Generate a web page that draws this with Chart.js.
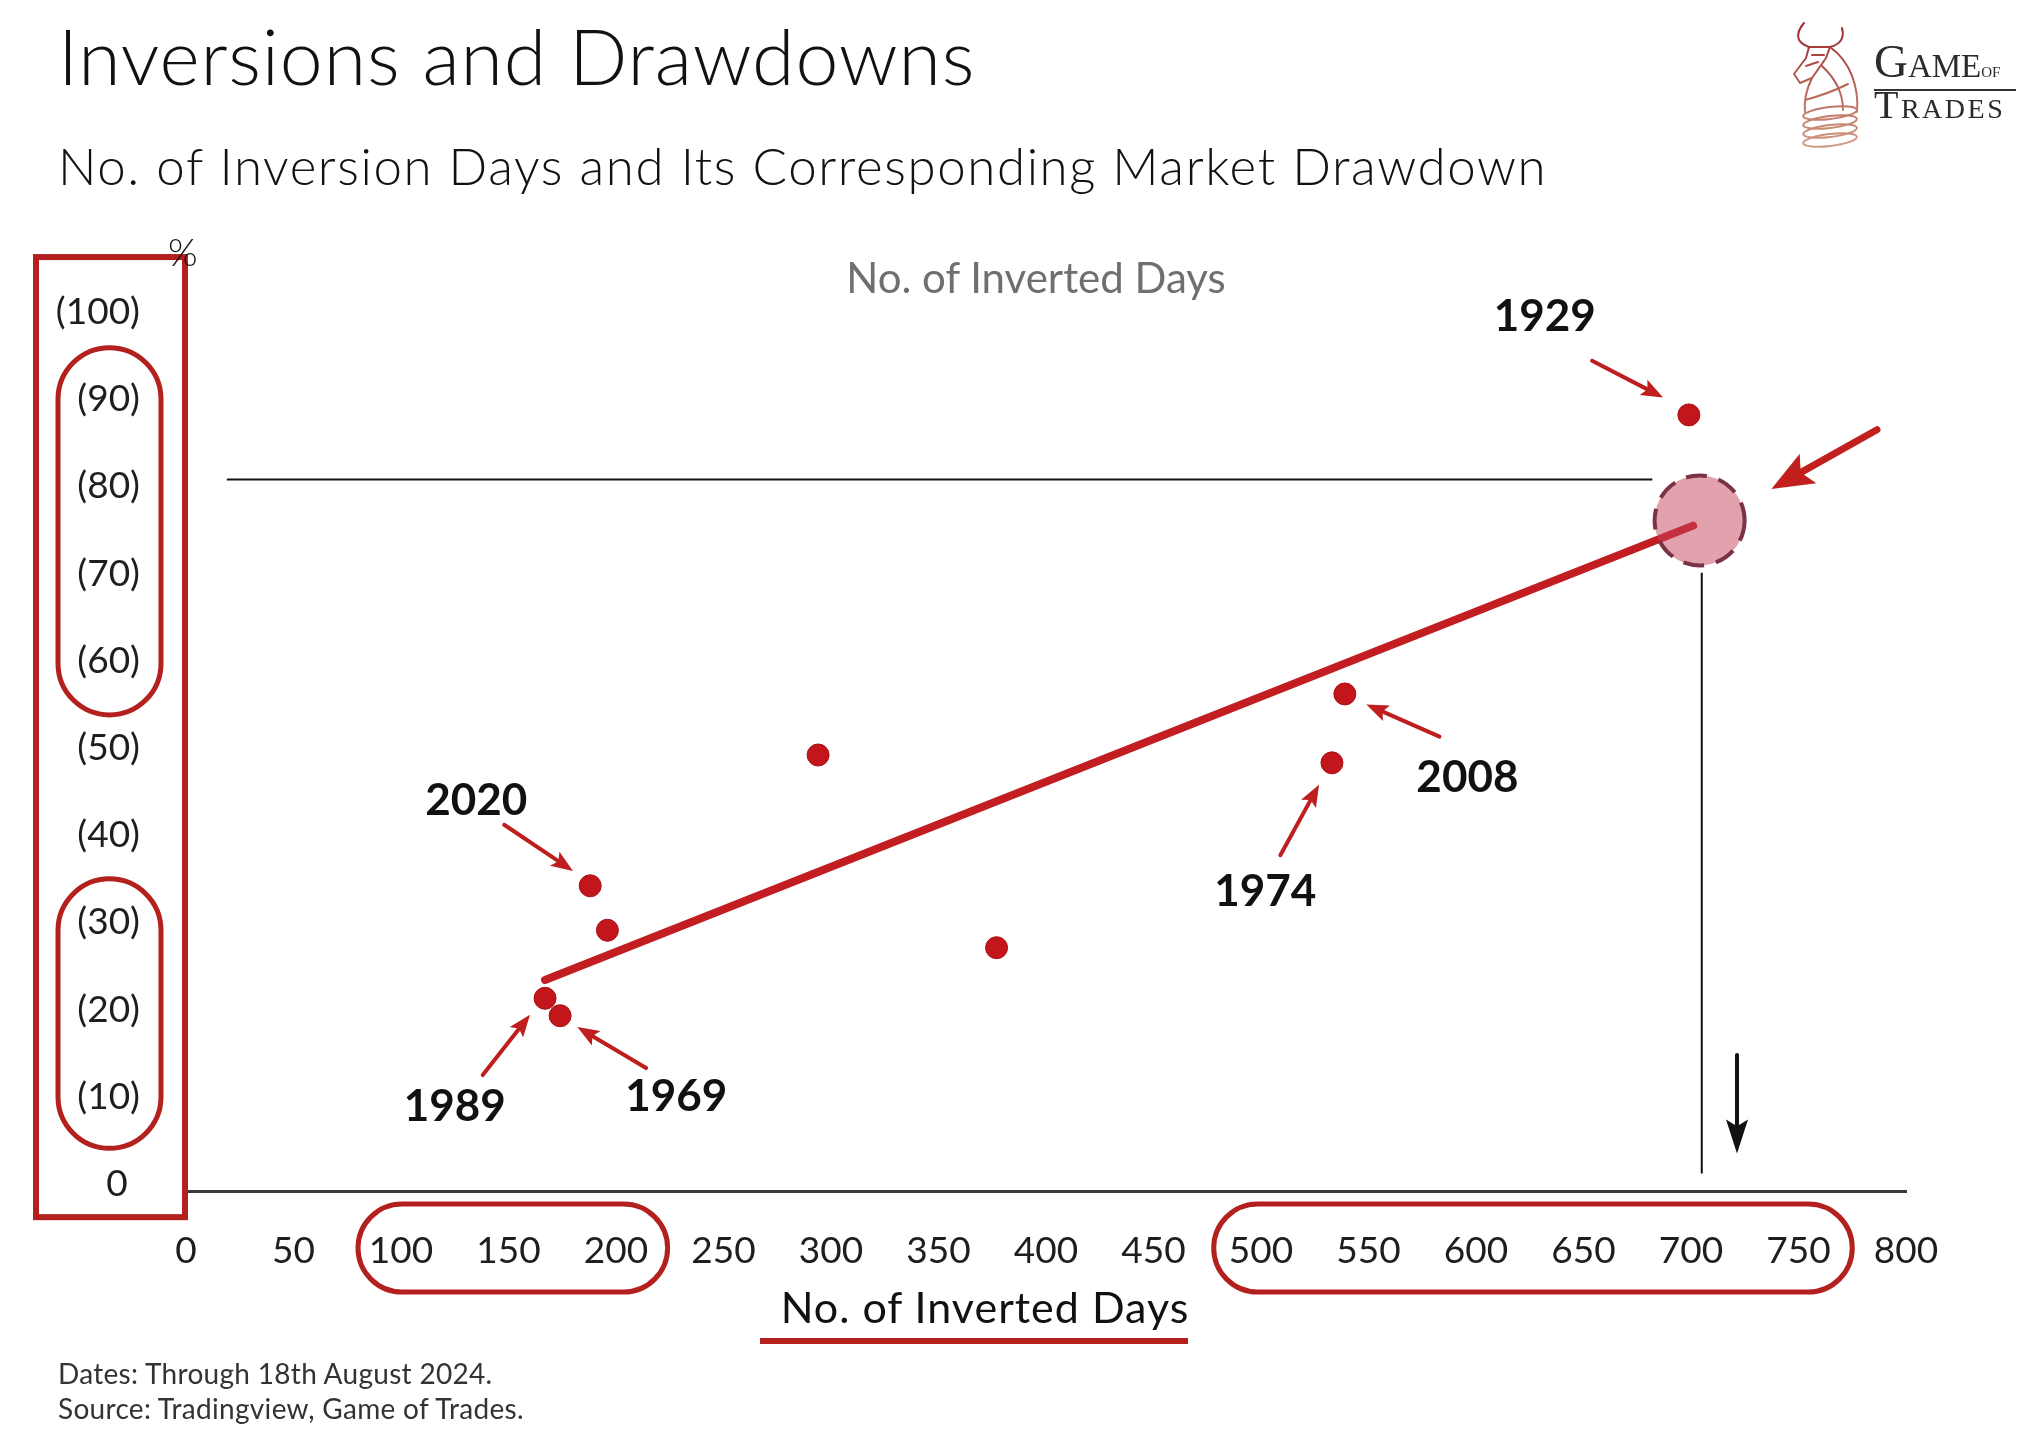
<!DOCTYPE html>
<html>
<head>
<meta charset="utf-8">
<title>Inversions and Drawdowns</title>
<script src="https://cdn.jsdelivr.net/npm/chart.js@4.4.1/dist/chart.umd.min.js"></script>
<style>
  html, body { margin: 0; padding: 0; background: #fff; }
  body { width: 2040px; height: 1450px; position: relative; overflow: hidden;
         font-family: Lato, "Noto Sans", sans-serif; color: #111; }
  #chart { position: absolute; left: 0; top: 0; }
  .txt { position: absolute; white-space: nowrap; line-height: 1; }
  #title { left: 58px; top: 17px; font-size: 77px; font-weight: 300; letter-spacing: 0.9px; }
  #subtitle { left: 58px; top: 140px; font-size: 51px; font-weight: 300; letter-spacing: 1.6px; }
  #topLabel { left: 1036px; top: 256px; font-size: 42px; color: #6f6f6f; transform: translateX(-50%); }
  #pct { left: 168px; top: 232px; font-size: 38px; font-weight: 300; }
  #xTitle { left: 985px; top: 1285px; font-size: 43px; letter-spacing: 1px; transform: translateX(-50%); }
  .note { left: 58px; font-size: 28px; color: #333; letter-spacing: 0.3px; }
  #note1 { top: 1359px; }
  #note2 { top: 1394px; }
  .logo { font-family: "Liberation Serif", "DejaVu Serif", serif; color: #2b2b2b; font-variant: small-caps; left: 1874px; }
  #logo1 { top: 38px; font-size: 47px; }
  #logo1 small { font-size: 21px; }
  #logo2 { top: 85px; font-size: 40px; letter-spacing: 2.5px; }
  #logoRule { position: absolute; left: 1874px; top: 89px; width: 142px; height: 2px; background: #333; }
</style>
</head>
<body>
<canvas id="chart" width="2040" height="1450"></canvas>
<div class="txt" id="title">Inversions and Drawdowns</div>
<div class="txt" id="subtitle">No. of Inversion Days and Its Corresponding Market Drawdown</div>
<div class="txt" id="topLabel">No. of Inverted Days</div>
<div class="txt" id="pct">%</div>
<div class="txt" id="xTitle">No. of Inverted Days</div>
<div class="txt note" id="note1">Dates: Through 18th August 2024.</div>
<div class="txt note" id="note2">Source: Tradingview, Game of Trades.</div>
<div class="txt logo" id="logo1">Game<small>of</small></div>
<div id="logoRule"></div>
<div class="txt logo" id="logo2">Trades</div>
<script>
// inversion episodes: days inverted vs. market drawdown (%)
const days      = [699, 539, 533, 294, 377, 188, 196, 167, 174]
const drawdowns = [88.2, 56.2, 48.3, 49.2, 27.1, 34.2, 29.1, 21.3, 19.3]

// trend line and current episode
const trendDays      = [167, 701]
const trendDrawdowns = [23.4, 75.5]
const currentDays      = [704]
const currentDrawdowns = [76.1]

// guide lines
const hLineDays = [19, 682]
const hLineDrawdowns = [80.8, 80.8]
const vLineDays = [705, 705]
const vLineDrawdowns = [70.1, 1.2]

// ticks
const xTicks = [0, 50, 100, 150, 200, 250, 300, 350, 400, 450, 500, 550, 600, 650, 700, 750, 800]
const yTicks = [0, 10, 20, 30, 40, 50, 60, 70, 80, 90, 100]

// year call-outs (label position + arrow from/to, in data units)
const labelYears     = ['1929', '2008', '1974', '2020', '1989', '1969']
const labelDays      = [632, 596, 502, 135, 125, 228]
const labelDrawdowns = [99.4, 46.6, 33.5, 44.0, 8.9, 10.0]
const arrowFromDays  = [654, 583, 509, 148, 138, 214]
const arrowFromDD    = [94.4, 51.3, 37.7, 41.2, 12.5, 13.3]
const arrowToDays    = [687, 549, 527, 180, 160, 182]
const arrowToDD      = [90.2, 55.0, 45.8, 35.9, 19.4, 18.0]

// highlighted tick ranges
const xPillRanges = [[80, 224], [478, 775]]
const yPillRanges = [[95.9, 53.8], [35.0, 4.1]]

const RED = '#b3201d'

const toXY = (xs, ys) => xs.map((x, i) => ({ x: x, y: ys[i] }))

function arrow(ctx, x1, y1, x2, y2, color, lw, headLen, headW) {
  const a = Math.atan2(y2 - y1, x2 - x1)
  const bx = x2 - headLen * Math.cos(a)
  const by = y2 - headLen * Math.sin(a)
  ctx.strokeStyle = color
  ctx.lineWidth = lw
  ctx.lineCap = 'round'
  ctx.beginPath()
  ctx.moveTo(x1, y1)
  ctx.lineTo(x2 - headLen * 0.7 * Math.cos(a), y2 - headLen * 0.7 * Math.sin(a))
  ctx.stroke()
  ctx.fillStyle = color
  ctx.beginPath()
  ctx.moveTo(x2, y2)
  ctx.lineTo(bx + headW / 2 * Math.sin(a), by - headW / 2 * Math.cos(a))
  ctx.lineTo(x2 - headLen * 0.8 * Math.cos(a), y2 - headLen * 0.8 * Math.sin(a))
  ctx.lineTo(bx - headW / 2 * Math.sin(a), by + headW / 2 * Math.cos(a))
  ctx.closePath()
  ctx.fill()
}

function pill(ctx, x, y, w, h) {
  const r = Math.min(w, h) / 2
  ctx.beginPath()
  ctx.roundRect(x, y, w, h, r)
  ctx.stroke()
}

function drawLogo(ctx) {
  const g = ctx.createLinearGradient(0, 22, 0, 145)
  g.addColorStop(0, '#9c2428')
  g.addColorStop(1, '#cf9c82')
  ctx.save()
  ctx.strokeStyle = g
  ctx.lineWidth = 2
  ctx.lineJoin = 'round'
  // horns
  ctx.beginPath()
  ctx.moveTo(1804, 23); ctx.quadraticCurveTo(1790, 40, 1809, 47)
  ctx.moveTo(1842, 28); ctx.quadraticCurveTo(1846, 43, 1830, 47)
  ctx.stroke()
  // head
  ctx.beginPath()
  ctx.moveTo(1809, 47); ctx.lineTo(1830, 47); ctx.lineTo(1826, 58)
  ctx.lineTo(1812, 78); ctx.lineTo(1800, 83); ctx.lineTo(1794, 74)
  ctx.lineTo(1806, 58); ctx.closePath()
  ctx.moveTo(1812, 55); ctx.lineTo(1824, 55)
  ctx.moveTo(1806, 66); ctx.lineTo(1818, 62)
  ctx.stroke()
  // neck / knight body
  ctx.beginPath()
  ctx.moveTo(1830, 47); ctx.bezierCurveTo(1851, 62, 1859, 88, 1857, 112)
  ctx.moveTo(1812, 78); ctx.bezierCurveTo(1806, 90, 1804, 102, 1805, 112)
  ctx.moveTo(1822, 66); ctx.bezierCurveTo(1837, 80, 1843, 96, 1843, 110)
  ctx.moveTo(1805, 100); ctx.bezierCurveTo(1820, 96, 1836, 90, 1848, 84)
  ctx.stroke()
  // base rings
  for (let i = 0; i < 4; i++) {
    ctx.beginPath()
    ctx.ellipse(1830, 113 + i * 9, 27, 6, -0.12, 0, Math.PI * 2)
    ctx.stroke()
  }
  ctx.restore()
}

const decorPlugin = {
  id: 'decor',
  beforeDatasetDraw(chart, args) {
    if (args.index === 1) {
      chart.ctx.save()
      chart.ctx.setLineDash([21, 12])
    }
  },
  afterDatasetDraw(chart, args) {
    if (args.index === 1) chart.ctx.restore()
  },
  afterDraw(chart) {
    const ctx = chart.ctx
    const xs = chart.scales.x
    const ys = chart.scales.y
    const px = v => xs.getPixelForValue(v)
    const py = v => ys.getPixelForValue(v)
    ctx.save()

    // y axis frame and pills
    ctx.strokeStyle = RED
    ctx.lineWidth = 6
    ctx.strokeRect(36, py(106.3), 149, py(-3.8) - py(106.3))
    ctx.lineWidth = 5
    yPillRanges.forEach(r => pill(ctx, 58, py(r[0]), 103, py(r[1]) - py(r[0])))

    // x axis pills
    xPillRanges.forEach(r => pill(ctx, px(r[0]), 1204, px(r[1]) - px(r[0]), 88))

    // underline below x title
    ctx.fillStyle = RED
    ctx.fillRect(760, 1338, 428, 6)

    // year call-outs
    labelYears.forEach((yr, i) => {
      arrow(ctx, px(arrowFromDays[i]), py(arrowFromDD[i]), px(arrowToDays[i]), py(arrowToDD[i]), '#bf1e1e', 4, 22, 17)
      ctx.fillStyle = '#111'
      ctx.font = 'bold 44px Lato, "Noto Sans", sans-serif'
      ctx.textAlign = 'center'
      ctx.textBaseline = 'middle'
      ctx.fillText(yr, px(labelDays[i]), py(labelDrawdowns[i]))
    })

    // big arrow pointing at current episode
    arrow(ctx, px(786.5), py(86.5), px(737.4), py(79.7), '#c21f1f', 7, 42, 34)
    // down arrow
    arrow(ctx, px(721.4), py(14.8), px(721.4), py(3.5), '#111', 4, 34, 22)

    drawLogo(ctx)
    ctx.restore()
  }
}

const tickFont = { family: 'Lato, "Noto Sans", sans-serif', size: 37 }

new Chart(document.getElementById('chart'), {
  type: 'scatter',
  data: {
    datasets: [
      {
        label: 'Inversions',
        data: toXY(days, drawdowns),
        backgroundColor: '#c3161c',
        borderColor: '#a80f15',
        borderWidth: 1,
        pointRadius: 11,
        order: 1
      },
      {
        label: 'Current',
        data: toXY(currentDays, currentDrawdowns),
        backgroundColor: 'rgba(197,67,91,0.5)',
        borderColor: '#7a3345',
        borderWidth: 4,
        pointRadius: 45,
        order: 2
      },
      {
        label: 'Trend',
        type: 'line',
        data: toXY(trendDays, trendDrawdowns),
        borderColor: '#c21d21',
        borderWidth: 8,
        borderCapStyle: 'round',
        pointRadius: 0,
        order: 3
      },
      {
        label: 'hLine',
        type: 'line',
        data: toXY(hLineDays, hLineDrawdowns),
        borderColor: '#111',
        borderWidth: 2,
        pointRadius: 0,
        order: 4
      },
      {
        label: 'vLine',
        type: 'line',
        data: toXY(vLineDays, vLineDrawdowns),
        borderColor: '#111',
        borderWidth: 2,
        pointRadius: 0,
        order: 5
      }
    ]
  },
  options: {
    responsive: false,
    animation: false,
    devicePixelRatio: 1,
    layout: { padding: { top: 312, right: 134, bottom: 0, left: 0 } },
    plugins: { legend: { display: false }, tooltip: { enabled: false } },
    scales: {
      x: {
        type: 'linear',
        min: 0,
        max: 800,
        afterBuildTicks: s => { s.ticks = xTicks.map(v => ({ value: v })) },
        afterFit: s => { s.height = 259 },
        grid: { display: false, drawTicks: false },
        border: { display: true, color: '#3a3a3a', width: 3 },
        ticks: { padding: 38, font: tickFont, color: '#1e1e1e', maxRotation: 0, autoSkip: false }
      },
      y: {
        type: 'linear',
        min: -0.8,
        max: 100,
        afterBuildTicks: s => { s.ticks = yTicks.map(v => ({ value: v })) },
        afterFit: s => { s.width = 186 },
        grid: { display: false, drawTicks: false },
        border: { display: false },
        ticks: {
          padding: 46,
          font: tickFont,
          color: '#1e1e1e',
          callback: v => v === 0 ? '0\u2004' : '(' + v + ')'
        }
      }
    }
  },
  plugins: [decorPlugin]
})
</script>
</body>
</html>
